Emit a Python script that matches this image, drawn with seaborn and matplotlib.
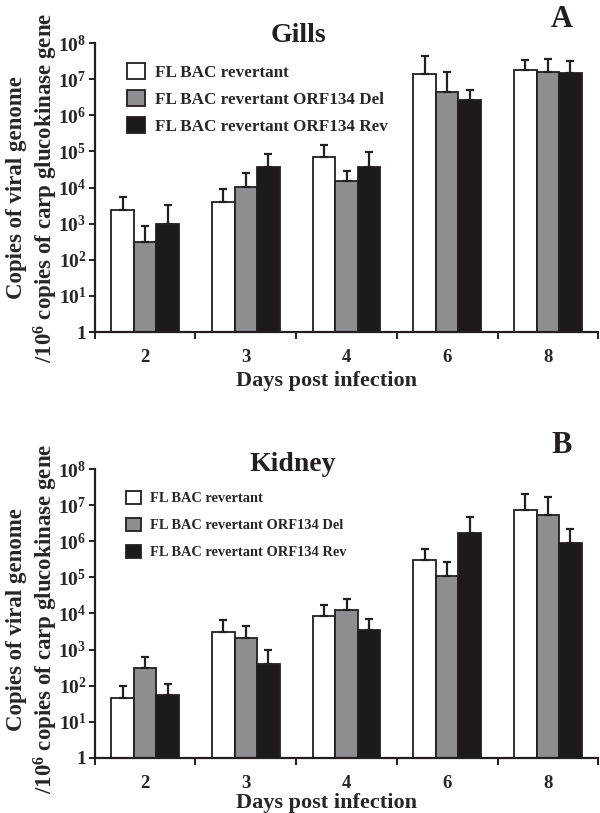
import pandas as pd
import matplotlib
matplotlib.use('Agg')
import matplotlib.pyplot as plt
import numpy as np
import seaborn as sns

days = ['2', '3', '4', '6', '8']
strains = ['FL BAC revertant', 'FL BAC revertant ORF134 Del', 'FL BAC revertant ORF134 Rev']
bar_colors = ['#ffffff', '#8e8e90', '#1c1a1b']

# Gills (mean and top of error bar)
gills_wt = [2400, 4100, 68000, 1.35e7, 1.75e7]
gills_del = [310, 10200, 15000, 4.4e6, 1.6e7]
gills_rev = [980, 37000, 36000, 2.6e6, 1.5e7]
gills_wt_up = [5600, 9300, 1.47e5, 4.5e7, 3.3e7]
gills_del_up = [870, 25000, 29000, 1.6e7, 3.6e7]
gills_rev_up = [3300, 87000, 94000, 4.9e6, 3.2e7]

# Kidney
kidney_wt = [45, 3000, 8500, 3.0e5, 7.2e6]
kidney_del = [300, 2100, 12600, 1.07e5, 5.4e6]
kidney_rev = [56, 400, 3400, 1.7e6, 8.8e5]
kidney_wt_up = [100, 6400, 17000, 6.3e5, 2.0e7]
kidney_del_up = [620, 4500, 25000, 2.7e5, 1.65e7]
kidney_rev_up = [111, 950, 7100, 4.8e6, 2.2e6]

sns.set_style('ticks')
plt.rcParams['font.family'] = ['Liberation Serif', 'DejaVu Serif']
plt.rcParams['font.weight'] = 'bold'
plt.rcParams['mathtext.fontset'] = 'custom'
plt.rcParams['mathtext.rm'] = 'Liberation Serif:bold'
plt.rcParams['mathtext.it'] = 'Liberation Serif:bold'
plt.rcParams['mathtext.bf'] = 'Liberation Serif:bold'

ink = '#231f20'


def make_df(wt, dl, rv):
    rows = []
    for vals, s in zip([wt, dl, rv], strains):
        for d, v in zip(days, vals):
            rows.append({'Day': d, 'Strain': s, 'Copies': v})
    return pd.DataFrame(rows)


def draw_panel(ax, df, uppers, title, letter, legend_size, leg_space, leg_anchor,
               title_pos, xlab_y, ylab_y):
    sns.barplot(data=df, x='Day', y='Copies', hue='Strain', order=days,
                hue_order=strains, palette=bar_colors, width=0.67,
                edgecolor=ink, linewidth=1.3, errorbar=None, ax=ax)
    ax.set_yscale('log')
    # upper error bars only
    for cont, up in zip(ax.containers, uppers):
        xs = [p.get_x() + p.get_width() / 2 for p in cont.patches]
        hs = [p.get_height() for p in cont.patches]
        err = np.array(up) - np.array(hs)
        ax.errorbar(xs, hs, yerr=[np.zeros(len(hs)), err], fmt='none',
                    ecolor=ink, elinewidth=1.6, capsize=3, capthick=1.6, zorder=1)
    ax.set_ylim(1, 1e8)
    ax.set_xlim(-0.5, 4.5)
    ax.set_yticks([10.0 ** k for k in range(9)])
    ax.set_yticklabels(['1'] + [r'$10^{%d}$' % k for k in range(1, 9)], fontsize=14)
    ax.yaxis.set_minor_locator(matplotlib.ticker.NullLocator())
    ax.tick_params(axis='y', direction='out', length=4, width=1.4, color=ink, pad=2)
    ax.set_xticks(range(len(days)))
    ax.set_xticklabels(days, fontsize=13.5)
    ax.tick_params(axis='x', length=0, pad=12)
    ax.set_xticks(np.arange(-0.5, 5, 1.0), minor=True)
    ax.tick_params(axis='x', which='minor', direction='out', length=5, width=1.4, color=ink)
    for s in ['left', 'bottom']:
        ax.spines[s].set_linewidth(1.6)
        ax.spines[s].set_color(ink)
    sns.despine(ax=ax)
    ax.set_xlabel('Days post infection', fontsize=16, fontweight='bold')
    ax.xaxis.set_label_coords(0.461, xlab_y)
    ax.set_ylabel('Copies of viral genome\n' + r'/$10^{6}$' + ' copies of carp glucokinase gene',
                  fontsize=16.5, fontweight='bold', linespacing=1.2)
    ax.yaxis.set_label_coords(-0.07, ylab_y)
    handles, labels = ax.get_legend_handles_labels()
    ax.legend(handles, labels, loc='upper left', bbox_to_anchor=leg_anchor,
              frameon=False, fontsize=legend_size, handlelength=1.05, handleheight=1.05,
              labelspacing=leg_space, handletextpad=0.6, borderaxespad=0)
    ax.set_title('')
    ax.text(title_pos[0], title_pos[1], title, transform=ax.transAxes, ha='center', va='center',
            fontsize=20, fontweight='bold', color=ink)
    ax.text(0.928, 1.08, letter, transform=ax.transAxes, ha='center', va='center',
            fontsize=22, fontweight='bold', color=ink)


fig = plt.figure(figsize=(6, 8.13), dpi=100)
ax1 = fig.add_axes([0.158, 0.5916, 0.839, 0.3555])
ax2 = fig.add_axes([0.158, 0.0677, 0.839, 0.3554])

draw_panel(ax1, make_df(gills_wt, gills_del, gills_rev),
           [gills_wt_up, gills_del_up, gills_rev_up], 'Gills', 'A', 12.3, 0.55,
           (0.05, 0.955), (0.405, 1.025), -0.135, 0.5)
draw_panel(ax2, make_df(kidney_wt, kidney_del, kidney_rev),
           [kidney_wt_up, kidney_del_up, kidney_rev_up], 'Kidney', 'B', 10.4, 0.85,
           (0.05, 0.945), (0.394, 1.015), -0.123, 0.48)

fig.savefig('out.png', dpi=100)
